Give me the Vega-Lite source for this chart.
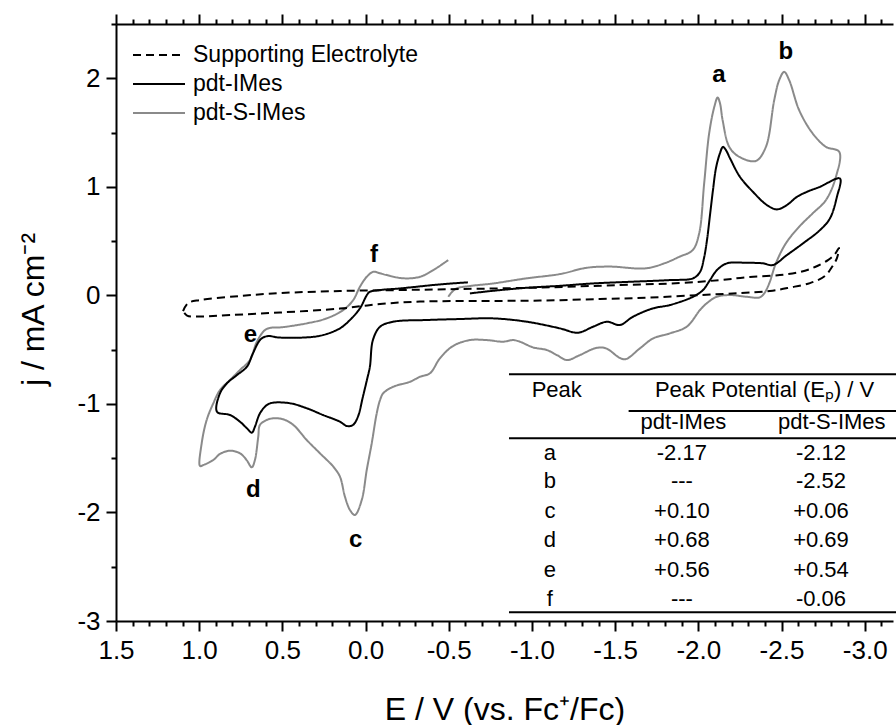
{
 "$schema": "https://vega.github.io/schema/vega-lite/v6.json",
 "width": 777,
 "height": 597,
 "autosize": {"type": "none"},
 "padding": {"left": 116, "top": 24, "right": 3, "bottom": 104},
 "background": "white",
 "config": {
  "view": {"stroke": null},
  "font": "Liberation Sans",
  "axis": {"domainColor": "black", "tickColor": "black", "domainWidth": 2, "tickWidth": 2, "grid": false, "labelColor": "black", "titleColor": "black", "labelFont": "Liberation Sans", "titleFont": "Liberation Sans", "titleFontWeight": "normal"}
 },
 "datasets": {
  "cv": [
   {"s":"pdt-S-IMes","i":0,"E":-0.497,"j":-0.013},{"s":"pdt-S-IMes","i":1,"E":-0.519,"j":0.030},{"s":"pdt-S-IMes","i":2,"E":-0.547,"j":0.064},{"s":"pdt-S-IMes","i":3,"E":-0.627,"j":0.086},{"s":"pdt-S-IMes","i":4,"E":-0.767,"j":0.110},{"s":"pdt-S-IMes","i":5,"E":-0.968,"j":0.157},{"s":"pdt-S-IMes","i":6,"E":-1.168,"j":0.196},{"s":"pdt-S-IMes","i":7,"E":-1.329,"j":0.254},{"s":"pdt-S-IMes","i":8,"E":-1.469,"j":0.265},{"s":"pdt-S-IMes","i":9,"E":-1.685,"j":0.249},
   {"s":"pdt-S-IMes","i":10,"E":-1.799,"j":0.297},{"s":"pdt-S-IMes","i":11,"E":-1.885,"j":0.355},{"s":"pdt-S-IMes","i":12,"E":-1.966,"j":0.417},{"s":"pdt-S-IMes","i":13,"E":-2.005,"j":0.571},{"s":"pdt-S-IMes","i":14,"E":-2.035,"j":1.031},{"s":"pdt-S-IMes","i":15,"E":-2.065,"j":1.492},{"s":"pdt-S-IMes","i":16,"E":-2.096,"j":1.737},{"s":"pdt-S-IMes","i":17,"E":-2.116,"j":1.823},{"s":"pdt-S-IMes","i":18,"E":-2.130,"j":1.771},{"s":"pdt-S-IMes","i":19,"E":-2.146,"j":1.614},
   {"s":"pdt-S-IMes","i":20,"E":-2.186,"j":1.368},{"s":"pdt-S-IMes","i":21,"E":-2.246,"j":1.276},{"s":"pdt-S-IMes","i":22,"E":-2.346,"j":1.239},{"s":"pdt-S-IMes","i":23,"E":-2.406,"j":1.368},{"s":"pdt-S-IMes","i":24,"E":-2.456,"j":1.798},{"s":"pdt-S-IMes","i":25,"E":-2.486,"j":1.983},{"s":"pdt-S-IMes","i":26,"E":-2.516,"j":2.059},{"s":"pdt-S-IMes","i":27,"E":-2.546,"j":1.983},{"s":"pdt-S-IMes","i":28,"E":-2.606,"j":1.706},{"s":"pdt-S-IMes","i":29,"E":-2.687,"j":1.492},
   {"s":"pdt-S-IMes","i":30,"E":-2.767,"j":1.368},{"s":"pdt-S-IMes","i":31,"E":-2.847,"j":1.322},{"s":"pdt-S-IMes","i":32,"E":-2.827,"j":1.092},{"s":"pdt-S-IMes","i":33,"E":-2.767,"j":0.878},{"s":"pdt-S-IMes","i":34,"E":-2.687,"j":0.755},{"s":"pdt-S-IMes","i":35,"E":-2.606,"j":0.632},{"s":"pdt-S-IMes","i":36,"E":-2.526,"j":0.479},{"s":"pdt-S-IMes","i":37,"E":-2.466,"j":0.295},{"s":"pdt-S-IMes","i":38,"E":-2.426,"j":0.110},{"s":"pdt-S-IMes","i":39,"E":-2.396,"j":0.018},
   {"s":"pdt-S-IMes","i":40,"E":-2.370,"j":-0.018},{"s":"pdt-S-IMes","i":41,"E":-2.290,"j":-0.013},{"s":"pdt-S-IMes","i":42,"E":-2.190,"j":0.003},{"s":"pdt-S-IMes","i":43,"E":-2.110,"j":-0.013},{"s":"pdt-S-IMes","i":44,"E":-2.050,"j":-0.074},{"s":"pdt-S-IMes","i":45,"E":-2.010,"j":-0.135},{"s":"pdt-S-IMes","i":46,"E":-1.930,"j":-0.289},{"s":"pdt-S-IMes","i":47,"E":-1.829,"j":-0.350},{"s":"pdt-S-IMes","i":48,"E":-1.729,"j":-0.396},{"s":"pdt-S-IMes","i":49,"E":-1.649,"j":-0.488},
   {"s":"pdt-S-IMes","i":50,"E":-1.565,"j":-0.587},{"s":"pdt-S-IMes","i":51,"E":-1.529,"j":-0.577},{"s":"pdt-S-IMes","i":52,"E":-1.445,"j":-0.488},{"s":"pdt-S-IMes","i":53,"E":-1.385,"j":-0.485},{"s":"pdt-S-IMes","i":54,"E":-1.288,"j":-0.550},{"s":"pdt-S-IMes","i":55,"E":-1.210,"j":-0.596},{"s":"pdt-S-IMes","i":56,"E":-1.150,"j":-0.550},{"s":"pdt-S-IMes","i":57,"E":-1.090,"j":-0.504},{"s":"pdt-S-IMes","i":58,"E":-1.006,"j":-0.479},{"s":"pdt-S-IMes","i":59,"E":-0.928,"j":-0.427},
   {"s":"pdt-S-IMes","i":60,"E":-0.886,"j":-0.412},{"s":"pdt-S-IMes","i":61,"E":-0.826,"j":-0.427},{"s":"pdt-S-IMes","i":62,"E":-0.730,"j":-0.412},{"s":"pdt-S-IMes","i":63,"E":-0.627,"j":-0.412},{"s":"pdt-S-IMes","i":64,"E":-0.525,"j":-0.467},{"s":"pdt-S-IMes","i":65,"E":-0.447,"j":-0.580},{"s":"pdt-S-IMes","i":66,"E":-0.387,"j":-0.718},{"s":"pdt-S-IMes","i":67,"E":-0.327,"j":-0.750},{"s":"pdt-S-IMes","i":68,"E":-0.267,"j":-0.796},{"s":"pdt-S-IMes","i":69,"E":-0.166,"j":-0.842},
   {"s":"pdt-S-IMes","i":70,"E":-0.106,"j":-0.902},{"s":"pdt-S-IMes","i":71,"E":-0.087,"j":-0.964},{"s":"pdt-S-IMes","i":72,"E":-0.067,"j":-1.087},{"s":"pdt-S-IMes","i":73,"E":-0.037,"j":-1.363},{"s":"pdt-S-IMes","i":74,"E":-0.007,"j":-1.609},{"s":"pdt-S-IMes","i":75,"E":0.023,"j":-1.885},{"s":"pdt-S-IMes","i":76,"E":0.064,"j":-2.023},{"s":"pdt-S-IMes","i":77,"E":0.094,"j":-1.977},{"s":"pdt-S-IMes","i":78,"E":0.124,"j":-1.855},{"s":"pdt-S-IMes","i":79,"E":0.154,"j":-1.670},
   {"s":"pdt-S-IMes","i":80,"E":0.194,"j":-1.578},{"s":"pdt-S-IMes","i":81,"E":0.274,"j":-1.455},{"s":"pdt-S-IMes","i":82,"E":0.354,"j":-1.332},{"s":"pdt-S-IMes","i":83,"E":0.434,"j":-1.194},{"s":"pdt-S-IMes","i":84,"E":0.495,"j":-1.142},{"s":"pdt-S-IMes","i":85,"E":0.555,"j":-1.133},{"s":"pdt-S-IMes","i":86,"E":0.594,"j":-1.148},{"s":"pdt-S-IMes","i":87,"E":0.635,"j":-1.194},{"s":"pdt-S-IMes","i":88,"E":0.645,"j":-1.302},{"s":"pdt-S-IMes","i":89,"E":0.665,"j":-1.517},
   {"s":"pdt-S-IMes","i":90,"E":0.684,"j":-1.584},{"s":"pdt-S-IMes","i":91,"E":0.715,"j":-1.517},{"s":"pdt-S-IMes","i":92,"E":0.755,"j":-1.455},{"s":"pdt-S-IMes","i":93,"E":0.815,"j":-1.431},{"s":"pdt-S-IMes","i":94,"E":0.875,"j":-1.461},{"s":"pdt-S-IMes","i":95,"E":0.915,"j":-1.517},{"s":"pdt-S-IMes","i":96,"E":0.975,"j":-1.563},{"s":"pdt-S-IMes","i":97,"E":0.995,"j":-1.572},{"s":"pdt-S-IMes","i":98,"E":0.985,"j":-1.363},{"s":"pdt-S-IMes","i":99,"E":0.955,"j":-1.148},
   {"s":"pdt-S-IMes","i":100,"E":0.915,"j":-0.994},{"s":"pdt-S-IMes","i":101,"E":0.875,"j":-0.872},{"s":"pdt-S-IMes","i":102,"E":0.815,"j":-0.780},{"s":"pdt-S-IMes","i":103,"E":0.755,"j":-0.688},{"s":"pdt-S-IMes","i":104,"E":0.695,"j":-0.596},{"s":"pdt-S-IMes","i":105,"E":0.654,"j":-0.430},{"s":"pdt-S-IMes","i":106,"E":0.605,"j":-0.320},{"s":"pdt-S-IMes","i":107,"E":0.563,"j":-0.297},{"s":"pdt-S-IMes","i":108,"E":0.514,"j":-0.295},{"s":"pdt-S-IMes","i":109,"E":0.354,"j":-0.258},
   {"s":"pdt-S-IMes","i":110,"E":0.234,"j":-0.212},{"s":"pdt-S-IMes","i":111,"E":0.134,"j":-0.135},{"s":"pdt-S-IMes","i":112,"E":0.074,"j":-0.043},{"s":"pdt-S-IMes","i":113,"E":0.034,"j":0.079},{"s":"pdt-S-IMes","i":114,"E":-0.007,"j":0.171},{"s":"pdt-S-IMes","i":115,"E":-0.046,"j":0.217},{"s":"pdt-S-IMes","i":116,"E":-0.087,"j":0.203},{"s":"pdt-S-IMes","i":117,"E":-0.127,"j":0.187},{"s":"pdt-S-IMes","i":118,"E":-0.227,"j":0.157},{"s":"pdt-S-IMes","i":119,"E":-0.327,"j":0.171},
   {"s":"pdt-S-IMes","i":120,"E":-0.407,"j":0.233},{"s":"pdt-S-IMes","i":121,"E":-0.497,"j":0.325},
   {"s":"pdt-IMes","i":0,"E":-0.627,"j":0.018},{"s":"pdt-IMes","i":1,"E":-0.766,"j":0.042},{"s":"pdt-IMes","i":2,"E":-0.970,"j":0.070},{"s":"pdt-IMes","i":3,"E":-1.168,"j":0.088},{"s":"pdt-IMes","i":4,"E":-1.367,"j":0.110},{"s":"pdt-IMes","i":5,"E":-1.589,"j":0.125},{"s":"pdt-IMes","i":6,"E":-1.829,"j":0.141},{"s":"pdt-IMes","i":7,"E":-1.968,"j":0.157},{"s":"pdt-IMes","i":8,"E":-2.010,"j":0.215},{"s":"pdt-IMes","i":9,"E":-2.034,"j":0.343},
   {"s":"pdt-IMes","i":10,"E":-2.052,"j":0.509},{"s":"pdt-IMes","i":11,"E":-2.070,"j":0.739},{"s":"pdt-IMes","i":12,"E":-2.088,"j":0.970},{"s":"pdt-IMes","i":13,"E":-2.106,"j":1.172},{"s":"pdt-IMes","i":14,"E":-2.130,"j":1.310},{"s":"pdt-IMes","i":15,"E":-2.148,"j":1.368},{"s":"pdt-IMes","i":16,"E":-2.166,"j":1.338},{"s":"pdt-IMes","i":17,"E":-2.190,"j":1.264},{"s":"pdt-IMes","i":18,"E":-2.250,"j":1.092},{"s":"pdt-IMes","i":19,"E":-2.328,"j":0.954},
   {"s":"pdt-IMes","i":20,"E":-2.412,"j":0.832},{"s":"pdt-IMes","i":21,"E":-2.472,"j":0.792},{"s":"pdt-IMes","i":22,"E":-2.532,"j":0.832},{"s":"pdt-IMes","i":23,"E":-2.593,"j":0.908},{"s":"pdt-IMes","i":24,"E":-2.653,"j":0.954},{"s":"pdt-IMes","i":25,"E":-2.731,"j":1.000},{"s":"pdt-IMes","i":26,"E":-2.851,"j":1.077},{"s":"pdt-IMes","i":27,"E":-2.833,"j":0.908},{"s":"pdt-IMes","i":28,"E":-2.791,"j":0.709},{"s":"pdt-IMes","i":29,"E":-2.731,"j":0.601},
   {"s":"pdt-IMes","i":30,"E":-2.629,"j":0.479},{"s":"pdt-IMes","i":31,"E":-2.532,"j":0.371},{"s":"pdt-IMes","i":32,"E":-2.448,"j":0.279},{"s":"pdt-IMes","i":33,"E":-2.388,"j":0.295},{"s":"pdt-IMes","i":34,"E":-2.292,"j":0.300},{"s":"pdt-IMes","i":35,"E":-2.172,"j":0.295},{"s":"pdt-IMes","i":36,"E":-2.112,"j":0.233},{"s":"pdt-IMes","i":37,"E":-2.070,"j":0.141},{"s":"pdt-IMes","i":38,"E":-2.028,"j":0.049},{"s":"pdt-IMes","i":39,"E":-1.968,"j":-0.013},
   {"s":"pdt-IMes","i":40,"E":-1.829,"j":-0.089},{"s":"pdt-IMes","i":41,"E":-1.727,"j":-0.120},{"s":"pdt-IMes","i":42,"E":-1.607,"j":-0.197},{"s":"pdt-IMes","i":43,"E":-1.529,"j":-0.273},{"s":"pdt-IMes","i":44,"E":-1.451,"j":-0.243},{"s":"pdt-IMes","i":45,"E":-1.367,"j":-0.289},{"s":"pdt-IMes","i":46,"E":-1.276,"j":-0.344},{"s":"pdt-IMes","i":47,"E":-1.168,"j":-0.304},{"s":"pdt-IMes","i":48,"E":-0.970,"j":-0.243},{"s":"pdt-IMes","i":49,"E":-0.766,"j":-0.212},
   {"s":"pdt-IMes","i":50,"E":-0.567,"j":-0.218},{"s":"pdt-IMes","i":51,"E":-0.369,"j":-0.227},{"s":"pdt-IMes","i":52,"E":-0.165,"j":-0.243},{"s":"pdt-IMes","i":53,"E":-0.087,"j":-0.289},{"s":"pdt-IMes","i":54,"E":-0.044,"j":-0.412},{"s":"pdt-IMes","i":55,"E":-0.026,"j":-0.657},{"s":"pdt-IMes","i":56,"E":-0.008,"j":-0.780},{"s":"pdt-IMes","i":57,"E":0.016,"j":-0.934},{"s":"pdt-IMes","i":58,"E":0.046,"j":-1.118},{"s":"pdt-IMes","i":59,"E":0.076,"j":-1.194},
   {"s":"pdt-IMes","i":60,"E":0.112,"j":-1.204},{"s":"pdt-IMes","i":61,"E":0.154,"j":-1.164},{"s":"pdt-IMes","i":62,"E":0.256,"j":-1.102},{"s":"pdt-IMes","i":63,"E":0.352,"j":-1.041},{"s":"pdt-IMes","i":64,"E":0.454,"j":-0.994},{"s":"pdt-IMes","i":65,"E":0.557,"j":-0.989},{"s":"pdt-IMes","i":66,"E":0.593,"j":-1.010},{"s":"pdt-IMes","i":67,"E":0.635,"j":-1.087},{"s":"pdt-IMes","i":68,"E":0.665,"j":-1.210},{"s":"pdt-IMes","i":69,"E":0.683,"j":-1.265},
   {"s":"pdt-IMes","i":70,"E":0.713,"j":-1.225},{"s":"pdt-IMes","i":71,"E":0.755,"j":-1.164},{"s":"pdt-IMes","i":72,"E":0.815,"j":-1.102},{"s":"pdt-IMes","i":73,"E":0.893,"j":-1.072},{"s":"pdt-IMes","i":74,"E":0.875,"j":-0.902},{"s":"pdt-IMes","i":75,"E":0.833,"j":-0.810},{"s":"pdt-IMes","i":76,"E":0.773,"j":-0.734},{"s":"pdt-IMes","i":77,"E":0.713,"j":-0.657},{"s":"pdt-IMes","i":78,"E":0.677,"j":-0.534},{"s":"pdt-IMes","i":79,"E":0.635,"j":-0.412},
   {"s":"pdt-IMes","i":80,"E":0.605,"j":-0.381},{"s":"pdt-IMes","i":81,"E":0.575,"j":-0.375},{"s":"pdt-IMes","i":82,"E":0.532,"j":-0.387},{"s":"pdt-IMes","i":83,"E":0.352,"j":-0.387},{"s":"pdt-IMes","i":84,"E":0.256,"j":-0.366},{"s":"pdt-IMes","i":85,"E":0.154,"j":-0.304},{"s":"pdt-IMes","i":86,"E":0.094,"j":-0.227},{"s":"pdt-IMes","i":87,"E":0.034,"j":-0.120},{"s":"pdt-IMes","i":88,"E":-0.008,"j":0.003},{"s":"pdt-IMes","i":89,"E":-0.026,"j":0.033},
   {"s":"pdt-IMes","i":90,"E":-0.087,"j":0.049},{"s":"pdt-IMes","i":91,"E":-0.207,"j":0.064},{"s":"pdt-IMes","i":92,"E":-0.447,"j":0.101},{"s":"pdt-IMes","i":93,"E":-0.615,"j":0.120},
   {"s":"Supporting Electrolyte","i":0,"E":1.097,"j":-0.145},{"s":"Supporting Electrolyte","i":1,"E":1.067,"j":-0.071},{"s":"Supporting Electrolyte","i":2,"E":0.995,"j":-0.043},{"s":"Supporting Electrolyte","i":3,"E":0.755,"j":-0.006},{"s":"Supporting Electrolyte","i":4,"E":0.514,"j":0.021},{"s":"Supporting Electrolyte","i":5,"E":0.154,"j":0.040},{"s":"Supporting Electrolyte","i":6,"E":-0.207,"j":0.049},{"s":"Supporting Electrolyte","i":7,"E":-0.567,"j":0.058},{"s":"Supporting Electrolyte","i":8,"E":-1.048,"j":0.072},{"s":"Supporting Electrolyte","i":9,"E":-1.529,"j":0.095},
   {"s":"Supporting Electrolyte","i":10,"E":-1.889,"j":0.113},{"s":"Supporting Electrolyte","i":11,"E":-2.130,"j":0.141},{"s":"Supporting Electrolyte","i":12,"E":-2.310,"j":0.169},{"s":"Supporting Electrolyte","i":13,"E":-2.490,"j":0.187},{"s":"Supporting Electrolyte","i":14,"E":-2.611,"j":0.215},{"s":"Supporting Electrolyte","i":15,"E":-2.701,"j":0.261},{"s":"Supporting Electrolyte","i":16,"E":-2.779,"j":0.325},{"s":"Supporting Electrolyte","i":17,"E":-2.821,"j":0.380},{"s":"Supporting Electrolyte","i":18,"E":-2.845,"j":0.436},{"s":"Supporting Electrolyte","i":19,"E":-2.833,"j":0.343},
   {"s":"Supporting Electrolyte","i":20,"E":-2.803,"j":0.261},{"s":"Supporting Electrolyte","i":21,"E":-2.761,"j":0.178},{"s":"Supporting Electrolyte","i":22,"E":-2.671,"j":0.113},{"s":"Supporting Electrolyte","i":23,"E":-2.550,"j":0.072},{"s":"Supporting Electrolyte","i":24,"E":-2.430,"j":0.040},{"s":"Supporting Electrolyte","i":25,"E":-2.250,"j":0.021},{"s":"Supporting Electrolyte","i":26,"E":-2.010,"j":0.003},{"s":"Supporting Electrolyte","i":27,"E":-1.709,"j":-0.020},{"s":"Supporting Electrolyte","i":28,"E":-1.409,"j":-0.034},{"s":"Supporting Electrolyte","i":29,"E":-1.048,"j":-0.048},
   {"s":"Supporting Electrolyte","i":30,"E":-0.688,"j":-0.052},{"s":"Supporting Electrolyte","i":31,"E":-0.327,"j":-0.057},{"s":"Supporting Electrolyte","i":32,"E":-0.087,"j":-0.080},{"s":"Supporting Electrolyte","i":33,"E":0.154,"j":-0.122},{"s":"Supporting Electrolyte","i":34,"E":0.514,"j":-0.158},{"s":"Supporting Electrolyte","i":35,"E":0.815,"j":-0.181},{"s":"Supporting Electrolyte","i":36,"E":0.995,"j":-0.195},{"s":"Supporting Electrolyte","i":37,"E":1.073,"j":-0.186},{"s":"Supporting Electrolyte","i":38,"E":1.097,"j":-0.145}
  ],
  "letters": [
   {"t":"a","E":-2.124,"j":1.967},{"t":"b","E":-2.526,"j":2.173},{"t":"c","E":0.059,"j":-2.315},{"t":"d","E":0.675,"j":-1.855},{"t":"e","E":0.692,"j":-0.427},{"t":"f","E":-0.050,"j":0.309}
  ],
  "table": [
   {"peak":"a","imes":"-2.17","simes":"-2.12","j":-1.517},
   {"peak":"b","imes":"---","simes":"-2.52","j":-1.777},
   {"peak":"c","imes":"+0.10","simes":"+0.06","j":-2.053},
   {"peak":"d","imes":"+0.68","simes":"+0.69","j":-2.315},
   {"peak":"e","imes":"+0.56","simes":"+0.54","j":-2.591},
   {"peak":"f","imes":"---","simes":"-0.06","j":-2.861}
  ],
  "rules": [
   {"E1":-0.862,"E2":-3.19,"j":-0.727},
   {"E1":-1.581,"E2":-3.19,"j":-1.065},
   {"E1":-0.862,"E2":-3.19,"j":-1.317},
   {"E1":-0.862,"E2":-3.19,"j":-2.919}
  ]
 },
 "resolve": {"axis": {"x": "independent", "y": "independent"}},
 "layer": [
  {
   "data": {"name": "cv"},
   "mark": {"type": "line", "strokeJoin": "round", "strokeCap": "butt", "interpolate": "catmull-rom"},
   "encoding": {
    "x": {"field": "E", "type": "quantitative", "scale": {"domain": [1.5, -3.17], "nice": false, "zero": false},
     "axis": {"orient": "bottom", "values": [1.5, 1, 0.5, 0, -0.5, -1, -1.5, -2, -2.5, -3], "tickSize": 10, "labelFontSize": 26, "labelPadding": 6, "labelFlush": false, "labelOverlap": false,
      "labelExpr": "datum.value < 0 ? '-' + format(-datum.value, '.1f') : format(datum.value, '.1f')",
      "title": "E / V (vs. Fc⁺/Fc)", "titleFontSize": 32, "titlePadding": 31}},
    "y": {"field": "j", "type": "quantitative", "scale": {"domain": [-3, 2.5], "nice": false, "zero": false},
     "axis": {"orient": "left", "values": [-3, -2, -1, 0, 1, 2], "tickSize": 10, "labelFontSize": 26, "labelPadding": 6, "labelFlush": false, "labelOverlap": false,
      "labelExpr": "datum.value < 0 ? '-' + format(-datum.value, 'd') : format(datum.value, 'd')",
      "title": "j / mA cm⁻²", "titleFontSize": 32, "titlePadding": 26, "titleY": 285}},
    "order": {"field": "i", "type": "quantitative"},
    "color": {"field": "s", "type": "nominal",
     "scale": {"domain": ["Supporting Electrolyte", "pdt-IMes", "pdt-S-IMes"], "range": ["#000000", "#000000", "#8a8a8a"]},
     "legend": {"title": null, "orient": "none", "legendX": 29, "legendY": 17, "symbolType": "M-2,0H2", "symbolSize": 676, "symbolStrokeWidth": 2, "labelFontSize": 23, "labelFont": "Liberation Sans", "labelColor": "black", "labelOffset": 20, "rowPadding": 3, "padding": 0, "labelLimit": 400}},
    "strokeDash": {"field": "s", "type": "nominal",
     "scale": {"domain": ["Supporting Electrolyte", "pdt-IMes", "pdt-S-IMes"], "range": [[8, 5], [1, 0], [1, 0]]},
     "legend": {"title": null, "orient": "none", "legendX": 29, "legendY": 17, "symbolType": "M-2,0H2", "symbolSize": 676, "symbolStrokeWidth": 2, "labelFontSize": 23, "labelFont": "Liberation Sans", "labelColor": "black", "labelOffset": 20, "rowPadding": 3, "padding": 0, "labelLimit": 400}},
    "strokeWidth": {"field": "s", "type": "nominal", "scale": {"domain": ["Supporting Electrolyte", "pdt-IMes", "pdt-S-IMes"], "range": [2, 2, 1.6]}, "legend": null}
   }
  },
  {
   "data": {"name": "cv"},
   "mark": {"type": "point", "opacity": 0},
   "encoding": {
    "x": {"field": "E", "type": "quantitative", "axis": {"orient": "bottom", "values": [1.4,1.3,1.2,1.1,0.9,0.8,0.7,0.6,0.4,0.3,0.2,0.1,-0.1,-0.2,-0.3,-0.4,-0.6,-0.7,-0.8,-0.9,-1.1,-1.2,-1.3,-1.4,-1.6,-1.7,-1.8,-1.9,-2.1,-2.2,-2.3,-2.4,-2.6,-2.7,-2.8,-2.9,-3.1], "tickSize": 5, "labels": false, "domain": false, "title": null}},
    "y": {"field": "j", "type": "quantitative", "axis": {"orient": "left", "values": [-2.5, -1.5, -0.5, 0.5, 1.5, 2.5], "tickSize": 5, "labels": false, "domain": false, "title": null}}
   }
  },
  {
   "data": {"name": "cv"},
   "mark": {"type": "point", "opacity": 0},
   "encoding": {
    "x": {"field": "E", "type": "quantitative", "axis": {"orient": "top", "values": [1.5, 1, 0.5, 0, -0.5, -1, -1.5, -2, -2.5, -3], "tickSize": 10, "labels": false, "domain": true, "title": null}},
    "y": {"field": "j", "type": "quantitative", "axis": null}
   }
  },
  {
   "data": {"name": "cv"},
   "mark": {"type": "point", "opacity": 0},
   "encoding": {
    "x": {"field": "E", "type": "quantitative", "axis": {"orient": "top", "values": [1.4,1.3,1.2,1.1,0.9,0.8,0.7,0.6,0.4,0.3,0.2,0.1,-0.1,-0.2,-0.3,-0.4,-0.6,-0.7,-0.8,-0.9,-1.1,-1.2,-1.3,-1.4,-1.6,-1.7,-1.8,-1.9,-2.1,-2.2,-2.3,-2.4,-2.6,-2.7,-2.8,-2.9,-3.1], "tickSize": 5, "labels": false, "domain": false, "title": null}},
    "y": {"field": "j", "type": "quantitative", "axis": null}
   }
  },
  {
   "data": {"name": "letters"},
   "mark": {"type": "text", "fontSize": 24, "fontWeight": "bold", "align": "center", "baseline": "alphabetic", "color": "black"},
   "encoding": {
    "x": {"field": "E", "type": "quantitative", "axis": null},
    "y": {"field": "j", "type": "quantitative", "axis": null},
    "text": {"field": "t"}
   }
  },
  {
   "data": {"name": "rules"},
   "mark": {"type": "rule", "strokeWidth": 2, "color": "black"},
   "encoding": {
    "x": {"field": "E1", "type": "quantitative", "axis": null},
    "x2": {"field": "E2"},
    "y": {"field": "j", "type": "quantitative", "axis": null}
   }
  },
  {
   "data": {"name": "table"},
   "mark": {"type": "text", "fontSize": 22, "align": "center", "baseline": "alphabetic", "color": "black"},
   "encoding": {
    "x": {"datum": -1.108, "type": "quantitative", "axis": null},
    "y": {"field": "j", "type": "quantitative", "axis": null},
    "text": {"field": "peak"}
   }
  },
  {
   "data": {"name": "table"},
   "mark": {"type": "text", "fontSize": 22, "align": "center", "baseline": "alphabetic", "color": "black"},
   "encoding": {
    "x": {"datum": -1.901, "type": "quantitative", "axis": null},
    "y": {"field": "j", "type": "quantitative", "axis": null},
    "text": {"field": "imes"}
   }
  },
  {
   "data": {"name": "table"},
   "mark": {"type": "text", "fontSize": 22, "align": "center", "baseline": "alphabetic", "color": "black"},
   "encoding": {
    "x": {"datum": -2.737, "type": "quantitative", "axis": null},
    "y": {"field": "j", "type": "quantitative", "axis": null},
    "text": {"field": "simes"}
   }
  },
  {
   "data": {"values": [{}]},
   "mark": {"type": "text", "text": "Peak", "fontSize": 22, "align": "center", "baseline": "alphabetic", "color": "black"},
   "encoding": {"x": {"datum": -1.149, "type": "quantitative", "axis": null}, "y": {"datum": -0.939, "type": "quantitative", "axis": null}}
  },
  {
   "data": {"values": [{}]},
   "mark": {"type": "text", "text": "Peak Potential (Eₚ) / V", "fontSize": 22, "align": "center", "baseline": "alphabetic", "color": "black"},
   "encoding": {"x": {"datum": -2.398, "type": "quantitative", "axis": null}, "y": {"datum": -0.939, "type": "quantitative", "axis": null}}
  },
  {
   "data": {"values": [{}]},
   "mark": {"type": "text", "text": "pdt-IMes", "fontSize": 22, "align": "center", "baseline": "alphabetic", "color": "black"},
   "encoding": {"x": {"datum": -1.910, "type": "quantitative", "axis": null}, "y": {"datum": -1.231, "type": "quantitative", "axis": null}}
  },
  {
   "data": {"values": [{}]},
   "mark": {"type": "text", "text": "pdt-S-IMes", "fontSize": 22, "align": "center", "baseline": "alphabetic", "color": "black"},
   "encoding": {"x": {"datum": -2.802, "type": "quantitative", "axis": null}, "y": {"datum": -1.231, "type": "quantitative", "axis": null}}
  }
 ]
}
